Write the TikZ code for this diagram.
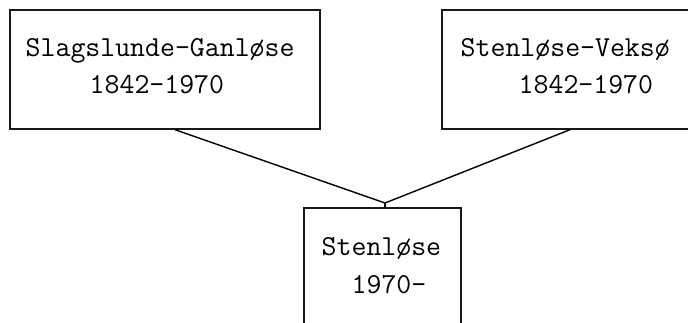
\documentclass[tikz,border=0pt]{standalone}
\usepackage{fontspec}
\setmonofont{Latin Modern Mono}
\usetikzlibrary{positioning}
\begin{document}
\begin{tikzpicture}[x=1pt,y=-1pt,line width=1.4pt]
    \tikzstyle{parish}=[rectangle, draw=black!90, inner sep=0pt]
    \tikzstyle{word}=[anchor=base west, inner sep=0pt, font=\fontsize{29}{35}\selectfont\ttfamily]
    \useasboundingbox (0,0) rectangle (688,323);
    % the three parishes
    \node[parish, minimum width=310pt, minimum height=119pt] (sg) at (165,69.5) {};
    \node[parish, minimum width=300pt, minimum height=119pt] (sv) at (592,69.5) {};
    \node[parish, minimum width=157pt, minimum height=132pt] (st) at (382.5,274) {};
    % names and years
    \foreach \i/\x/\y/\txt in {1/25/57/{Slagslunde-Ganløse},2/89/94/{1842-1970},
        3/460/57/{Stenløse-Veksø},4/518/94/{1842-1970},
        5/321/255/{Stenløse},6/351/293/{1970-}} {
        \node[word] (t\i) at (\x,\y) {\txt};
    }
    \coordinate (j) at (385,203);
    \draw ([xshift=10pt]sg.south) -- (j);
    \draw ([xshift=-22pt]sv.south) -- (j);
    \draw (j) -- ([xshift=2.5pt]st.north);
\end{tikzpicture}
\end{document}
